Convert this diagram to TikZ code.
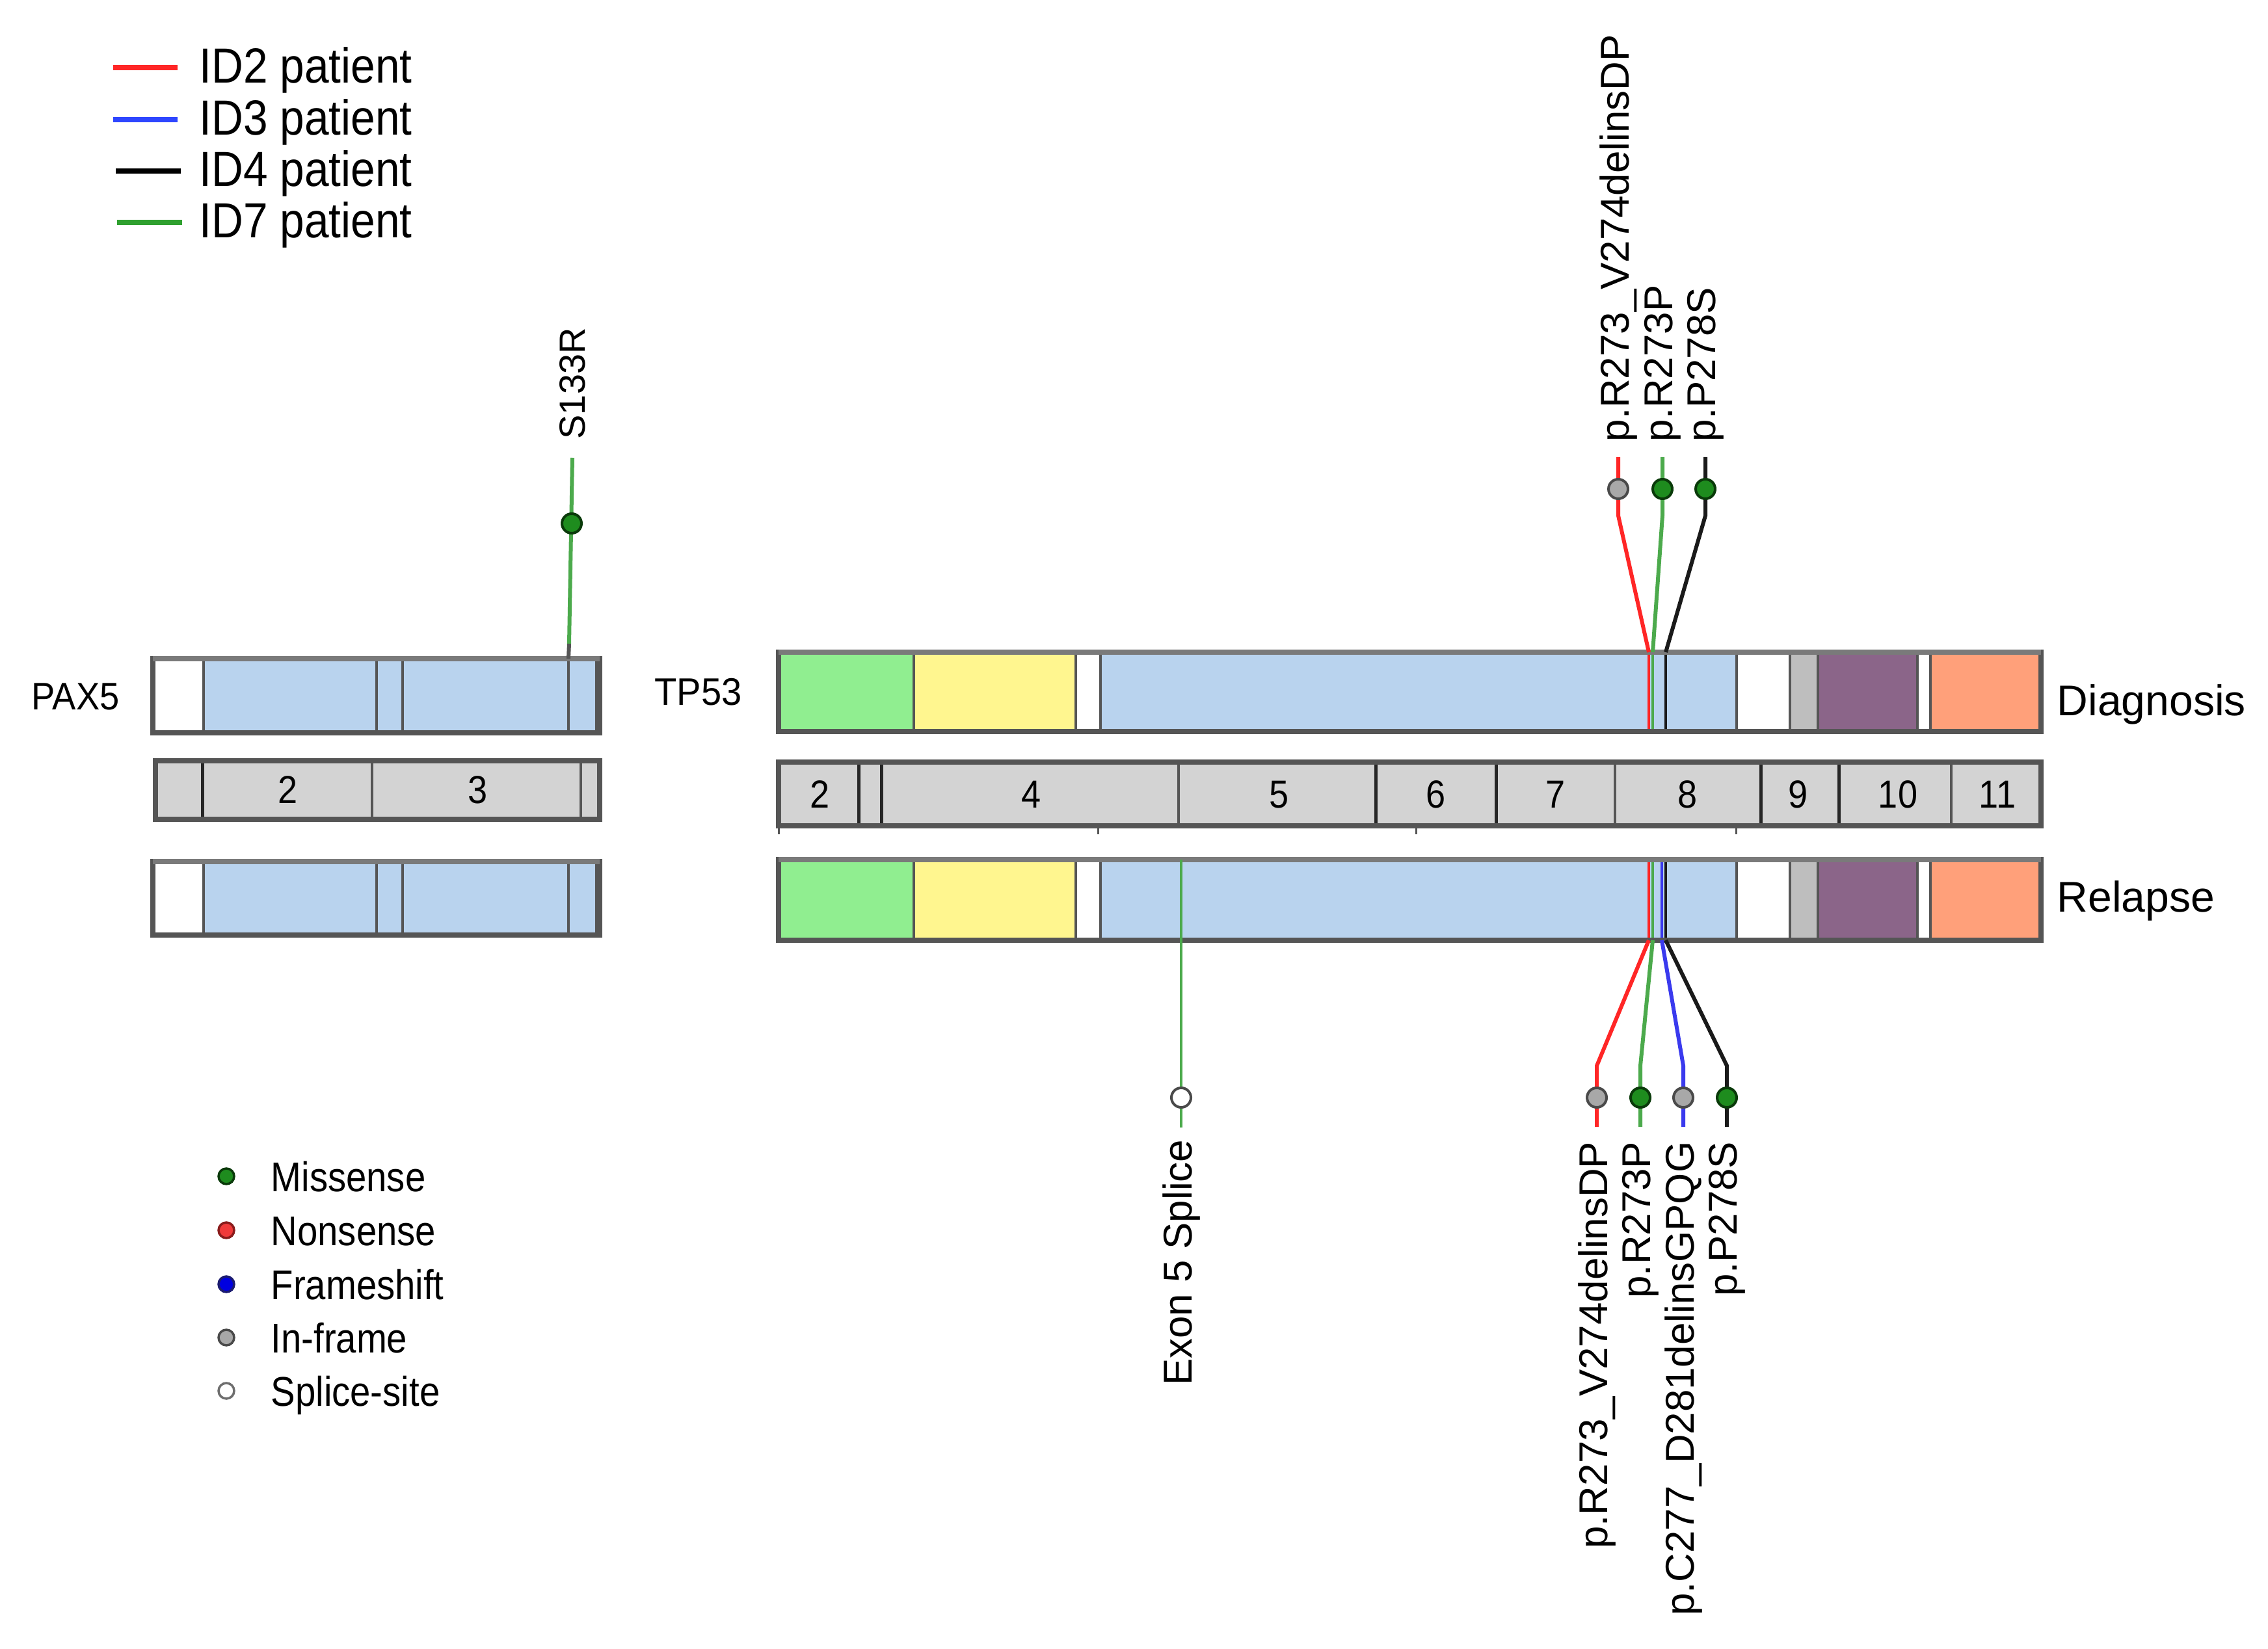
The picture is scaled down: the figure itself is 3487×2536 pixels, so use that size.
\documentclass[tikz,border=0pt]{standalone}
\usepackage{fontspec}
\setmainfont{Liberation Sans}
\usepackage{graphicx}
\newcommand\myfs[1]{\fontsize{#1}{#1}\selectfont}
\newcommand\nx[2]{\scalebox{#1}[1]{#2}}
\definecolor{cred}{HTML}{FF2626}
\definecolor{cblue}{HTML}{2E46FF}
\definecolor{lblue}{HTML}{3A3AEE}
\definecolor{cblk}{HTML}{1A1A1A}
\definecolor{cgrn}{HTML}{2FA02F}
\definecolor{lgrn}{HTML}{4CAA4C}
\definecolor{misF}{HTML}{1E8C1E}
\definecolor{misD}{HTML}{0A3A0A}
\definecolor{infF}{HTML}{A8A8A8}
\definecolor{infD}{HTML}{4A4A4A}
\definecolor{nonF}{HTML}{F03A3A}
\definecolor{nonD}{HTML}{8A1C1C}
\definecolor{frmF}{HTML}{0000E0}
\definecolor{frmD}{HTML}{1C1C70}
\definecolor{dgreen}{HTML}{90EE90}
\definecolor{dyellow}{HTML}{FFF68F}
\definecolor{dblue}{HTML}{B9D3EE}
\definecolor{dpurple}{HTML}{8B6589}
\definecolor{dorange}{HTML}{FFA07A}
\definecolor{dgrey}{HTML}{BEBEBE}
\definecolor{exgrey}{HTML}{D3D3D3}
\definecolor{bord}{HTML}{555555}
\definecolor{topb}{HTML}{7A7A7A}
\begin{document}
\begin{tikzpicture}[x=0.1mm,y=-0.1mm,
  boxb/.style={draw=bord, line width=0.8mm},
  sepg/.style={draw=bord, line width=0.4mm},
  sepk/.style={draw=black!85, line width=0.5mm},
  mline/.style={line width=0.6mm},
  inline/.style={line width=0.45mm},
  keyline/.style={line width=0.8mm},
  head/.style={circle, line width=0.4mm, minimum size=3.0mm, inner sep=0pt},
  misH/.style={head, fill=misF, draw=misD},
  infH/.style={head, fill=infF, draw=infD},
  splH/.style={head, fill=white, draw=infD},
  key/.style={circle, line width=0.35mm, minimum size=2.4mm, inner sep=0pt},
  txt/.style={inner sep=0pt},
  rlab/.style={inner sep=0pt, rotate=90, font=\myfs{17.6}},
  exn/.style={inner sep=0pt, font=\myfs{17.1}}]
\useasboundingbox (0,0) rectangle (3487,2536);

% ---------- patient legend ----------
\coordinate (k1a) at (174,104); \coordinate (k1b) at (273,104);
\coordinate (k2a) at (174,184); \coordinate (k2b) at (273,184);
\coordinate (k3a) at (178,263); \coordinate (k3b) at (278,263);
\coordinate (k4a) at (180,342); \coordinate (k4b) at (280,342);
\draw[keyline,cred] (k1a) -- (k1b);
\draw[keyline,cblue] (k2a) -- (k2b);
\draw[keyline,black] (k3a) -- (k3b);
\draw[keyline,cgrn] (k4a) -- (k4b);
\node[txt,anchor=base west,font=\myfs{21.6}] (t1) at (306,128) {\nx{0.89}{ID2 patient}};
\node[txt,anchor=base west,font=\myfs{21.6}] (t2) at (306,208) {\nx{0.89}{ID3 patient}};
\node[txt,anchor=base west,font=\myfs{21.6}] (t3) at (306,287) {\nx{0.89}{ID4 patient}};
\node[txt,anchor=base west,font=\myfs{21.6}] (t4) at (306,366) {\nx{0.89}{ID7 patient}};

% ---------- mutation type legend ----------
\node[key,fill=misF,draw=misD] (m1) at (348,1809) {};
\node[key,fill=nonF,draw=nonD] (m2) at (348,1892) {};
\node[key,fill=frmF,draw=frmD] (m3) at (348,1975) {};
\node[key,fill=infF,draw=infD] (m4) at (348,2057) {};
\node[key,fill=white,draw=infD!80] (m5) at (348,2139) {};
\node[txt,anchor=base west,font=\myfs{18.2}] (mt1) at (416,1832) {\nx{0.88}{Missense}};
\node[txt,anchor=base west,font=\myfs{18.2}] (mt2) at (416,1915) {\nx{0.88}{Nonsense}};
\node[txt,anchor=base west,font=\myfs{18.2}] (mt3) at (416,1998) {\nx{0.88}{Frameshift}};
\node[txt,anchor=base west,font=\myfs{18.2}] (mt4) at (416,2080) {\nx{0.88}{In-frame}};
\node[txt,anchor=base west,font=\myfs{18.2}] (mt5) at (416,2162) {\nx{0.88}{Splice-site}};

% ---------- PAX5 ----------
\foreach \ya/\yb in {1013/1127,1325/1438}{
  \fill[white] (235,\ya) rectangle (313,\yb);
  \fill[dblue] (313,\ya) rectangle (922,\yb);
  \foreach \xx in {313,579,619,874,917} \draw[sepg] (\xx,\ya) -- (\xx,\yb);
  \draw[boxb] (235,\ya) rectangle (922,\yb);
  \draw[draw=topb,line width=0.8mm] (235,\ya) -- (922,\ya);
}
\fill[exgrey] (239,1170) rectangle (922,1260);
\draw[sepk] (311,1170) -- (311,1260);
\draw[sepg] (572,1170) -- (572,1260);
\draw[sepg] (893,1170) -- (893,1260);
\draw[boxb] (239,1170) rectangle (922,1260);
\node[exn] (px2) at (443,1215) {\nx{0.9}{2}};
\node[exn] (px3) at (735,1215) {\nx{0.9}{3}};
\node[txt,anchor=west,font=\myfs{16.8}] (pax) at (48,1071) {\nx{0.92}{PAX5}};

\coordinate (sT) at (880,704); \coordinate (sM) at (875,990); \coordinate (sB) at (874,1013);
\draw[mline,lgrn] (sT) -- (sM);
\draw[mline,bord] (sM) -- (sB);
\node[misH] (sH) at (879,805) {};
\node[rlab,anchor=west,font=\myfs{15.9}] (sL) at (880,676) {S133R};

% ---------- TP53 domain rows ----------
\foreach \ya/\yb in {1003/1125,1322/1446}{
  \fill[dgreen] (1197,\ya) rectangle (1405,\yb);
  \fill[dyellow] (1405,\ya) rectangle (1654,\yb);
  \fill[white] (1654,\ya) rectangle (1692,\yb);
  \fill[dblue] (1692,\ya) rectangle (2670,\yb);
  \fill[white] (2670,\ya) rectangle (2752,\yb);
  \fill[dgrey] (2752,\ya) rectangle (2795,\yb);
  \fill[dpurple] (2795,\ya) rectangle (2948,\yb);
  \fill[white] (2948,\ya) rectangle (2968,\yb);
  \fill[dorange] (2968,\ya) rectangle (3138,\yb);
  \foreach \xx in {1405,1654,1692,2670,2752,2795,2948,2968} \draw[sepg] (\xx,\ya) -- (\xx,\yb);
}
% mutation marks inside the rows
\draw[inline,cred] (2535,1003) -- (2535,1125);
\draw[inline,lgrn] (2541,1003) -- (2541,1125);
\draw[inline,cblk] (2561,1003) -- (2561,1125);
\draw[inline,cred] (2535,1322) -- (2535,1446);
\draw[inline,lgrn] (2541,1322) -- (2541,1446);
\draw[inline,lblue] (2555,1322) -- (2555,1446);
\draw[inline,cblk] (2561,1322) -- (2561,1446);
\draw[boxb] (1197,1003) rectangle (3138,1125);
\draw[boxb] (1197,1322) rectangle (3138,1446);
\draw[draw=topb,line width=0.8mm] (1197,1003) -- (3138,1003);
\draw[draw=topb,line width=0.8mm] (1197,1322) -- (3138,1322);

% exon bar
\fill[exgrey] (1197,1172) rectangle (3138,1270);
\foreach \xx in {1320,1355,2115,2300,2707,2827} \draw[sepk] (\xx,1172) -- (\xx,1270);
\foreach \xx in {1812,2483,3000} \draw[sepg] (\xx,1172) -- (\xx,1270);
\draw[boxb] (1197,1172) rectangle (3138,1270);
\foreach \xx in {1197,1688,2177,2669} \draw[bord,line width=0.3mm] (\xx,1270) -- (\xx,1283);
\node[exn] (e2) at (1261,1222) {\nx{0.9}{2}};
\node[exn] (e4) at (1586,1222) {\nx{0.9}{4}};
\node[exn] (e5) at (1967,1222) {\nx{0.9}{5}};
\node[exn] (e6) at (2208,1222) {\nx{0.9}{6}};
\node[exn] (e7) at (2392,1222) {\nx{0.9}{7}};
\node[exn] (e8) at (2595,1222) {\nx{0.9}{8}};
\node[exn] (e9) at (2765,1222) {\nx{0.9}{9}};
\node[exn] (e10) at (2918,1222) {\nx{0.9}{10}};
\node[exn] (e11) at (3071,1222) {\nx{0.9}{11}};

\node[txt,anchor=west,font=\myfs{16.8}] (tp) at (1006,1064) {\nx{0.95}{TP53}};
\node[txt,anchor=base west,font=\myfs{18.8}] (dg) at (3162,1100) {Diagnosis};
\node[txt,anchor=base west,font=\myfs{18.8}] (rl) at (3162,1402) {Relapse};

% ---------- diagnosis lollipops ----------
\coordinate (dRt) at (2488,703); \coordinate (dRb) at (2488,793); \coordinate (dRx) at (2535,1003);
\coordinate (dGt) at (2556,703); \coordinate (dGb) at (2556,793); \coordinate (dGx) at (2541,1003);
\coordinate (dKt) at (2622,703); \coordinate (dKb) at (2622,793); \coordinate (dKx) at (2561,1003);
\draw[mline,cred] (dRt) -- (dRb) -- (dRx);
\draw[mline,lgrn] (dGt) -- (dGb) -- (dGx);
\draw[mline,cblk] (dKt) -- (dKb) -- (dKx);
\node[infH] (dRh) at (2488,752) {};
\node[misH] (dGh) at (2556,752) {};
\node[misH] (dKh) at (2622,752) {};
\node[rlab,anchor=west] (dRl) at (2488,680) {p.R273\_V274delinsDP};
\node[rlab,anchor=west] (dGl) at (2556,680) {p.R273P};
\node[rlab,anchor=west] (dKl) at (2622,680) {p.P278S};

% ---------- relapse lollipops ----------
\coordinate (rRx) at (2535,1446); \coordinate (rRb) at (2455,1639); \coordinate (rRe) at (2455,1733);
\coordinate (rGx) at (2541,1446); \coordinate (rGb) at (2522,1639); \coordinate (rGe) at (2522,1733);
\coordinate (rBx) at (2555,1446); \coordinate (rBb) at (2588,1639); \coordinate (rBe) at (2588,1733);
\coordinate (rKx) at (2561,1446); \coordinate (rKb) at (2655,1639); \coordinate (rKe) at (2655,1733);
\draw[mline,cred] (rRx) -- (rRb) -- (rRe);
\draw[mline,lgrn] (rGx) -- (rGb) -- (rGe);
\draw[mline,lblue] (rBx) -- (rBb) -- (rBe);
\draw[mline,cblk] (rKx) -- (rKb) -- (rKe);
\node[infH] (rRh) at (2455,1688) {};
\node[misH] (rGh) at (2522,1688) {};
\node[infH] (rBh) at (2588,1688) {};
\node[misH] (rKh) at (2655,1688) {};
\node[rlab,anchor=east] (rRl) at (2455,1755) {p.R273\_V274delinsDP};
\node[rlab,anchor=east] (rGl) at (2522,1755) {p.R273P};
\node[rlab,anchor=east] (rBl) at (2588,1755) {p.C277\_D281delinsGPQG};
\node[rlab,anchor=east] (rKl) at (2655,1755) {p.P278S};

% splice
\coordinate (spT) at (1816,1322); \coordinate (spE) at (1816,1734);
\draw[inline,lgrn] (spT) -- (spE);
\node[splH] (spH) at (1816,1688) {};
\node[rlab,anchor=east] (spL) at (1816,1752) {Exon 5 Splice};
\end{tikzpicture}
\end{document}
